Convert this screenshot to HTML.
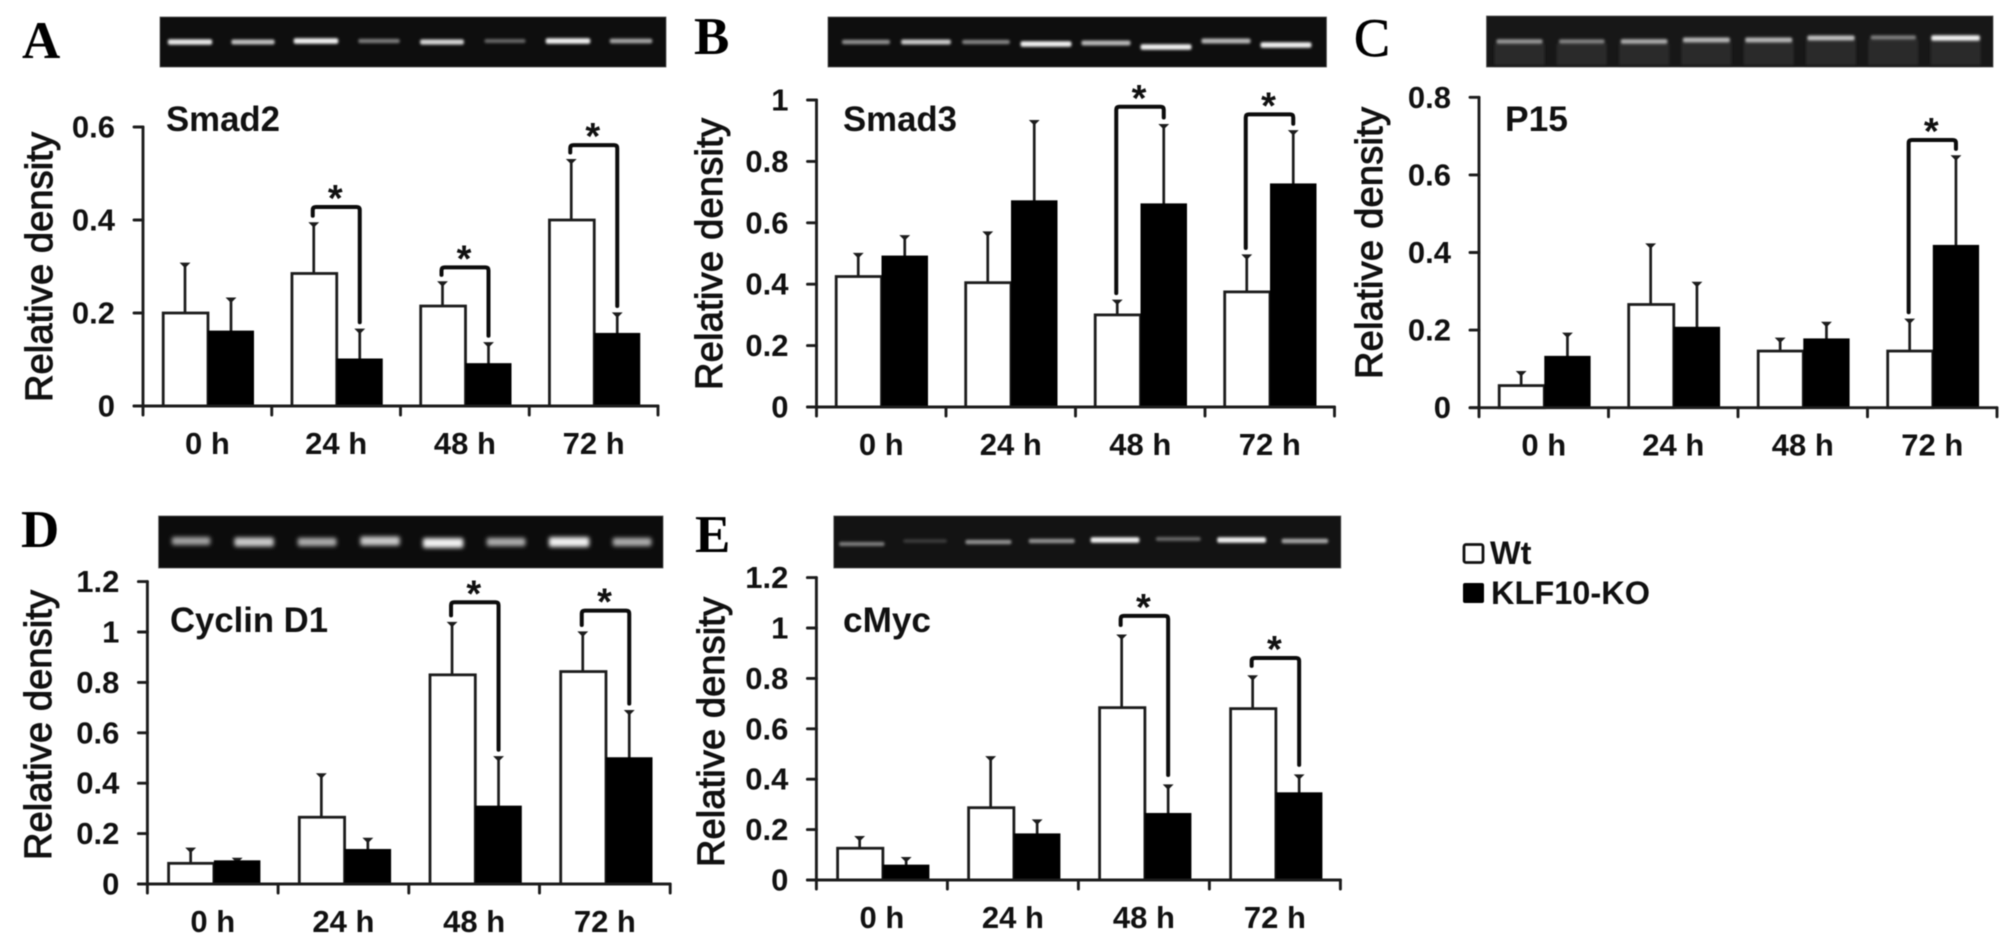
<!DOCTYPE html>
<html lang="en">
<head>
<meta charset="utf-8">
<title>Relative density of Smad2, Smad3, P15, Cyclin D1 and cMyc</title>
<style>
  html,body{margin:0;padding:0;background:#fff;width:2008px;height:946px;overflow:hidden}
  svg{display:block;filter:blur(.65px)}
  text{font-family:"Liberation Sans",sans-serif;fill:#111}
  .letter{font-family:"Liberation Serif",serif;font-weight:bold;font-size:53px;fill:#000}
  .title{font-weight:bold;font-size:35px}
  .ytitle{font-size:38px;stroke:#111;stroke-width:1px}
  .tick{font-weight:bold;font-size:31px;text-anchor:end}
  .xlab{font-weight:bold;font-size:31px;text-anchor:middle}
  .star{font-weight:bold;font-size:38px;text-anchor:middle}
  .legend-text{font-weight:bold;font-size:32.5px}
</style>
</head>
<body>
<svg id="fig" xmlns="http://www.w3.org/2000/svg" width="2008" height="946" viewBox="0 0 2008 946">
  <defs>
    <filter id="soft1" x="-20%" y="-150%" width="140%" height="400%"><feGaussianBlur stdDeviation="1.2"/></filter>
    <filter id="soft2" x="-20%" y="-100%" width="140%" height="300%"><feGaussianBlur stdDeviation="2.1"/></filter>
  </defs>

  <g id="panel-a">
    <text class="letter" x="22" y="58">A</text>
    <text class="title" x="166" y="131" textLength="114" lengthAdjust="spacingAndGlyphs">Smad2</text>
    <text class="ytitle" transform="translate(52 402) rotate(-90)" textLength="270" lengthAdjust="spacing">Relative density</text>
  </g>
  <g id="panel-b">
    <text class="letter" x="694" y="54">B</text>
    <text class="title" x="843" y="131" textLength="114" lengthAdjust="spacingAndGlyphs">Smad3</text>
    <text class="ytitle" transform="translate(722 390) rotate(-90)" textLength="272" lengthAdjust="spacing">Relative density</text>
  </g>
  <g id="panel-c">
    <text class="letter" x="1354" y="56" style="font-weight:normal;font-size:54px;stroke:#000;stroke-width:.7px">C</text>
    <text class="title" x="1505" y="131" textLength="63" lengthAdjust="spacingAndGlyphs">P15</text>
    <text class="ytitle" transform="translate(1382 379) rotate(-90)" textLength="272" lengthAdjust="spacing">Relative density</text>
  </g>
  <g id="panel-d">
    <text class="letter" x="21" y="547">D</text>
    <text class="title" x="170" y="632" textLength="158" lengthAdjust="spacingAndGlyphs">Cyclin D1</text>
    <text class="ytitle" transform="translate(51 860) rotate(-90)" textLength="270" lengthAdjust="spacing">Relative density</text>
  </g>
  <g id="panel-e">
    <text class="letter" x="695" y="552">E</text>
    <text class="title" x="843" y="632" textLength="88" lengthAdjust="spacingAndGlyphs">cMyc</text>
    <text class="ytitle" transform="translate(724 867) rotate(-90)" textLength="270" lengthAdjust="spacing">Relative density</text>
  </g>

  <g>
    <g>
      <rect x="1464" y="544.5" width="19" height="18" rx="2" fill="#fff" stroke="#111" stroke-width="2.8"/>
      <text class="legend-text" x="1490" y="564">Wt</text>
    </g>
    <g>
      <rect x="1463" y="583" width="21" height="20" rx="2" fill="#000"/>
      <text class="legend-text" x="1491" y="604" textLength="159" lengthAdjust="spacing">KLF10-KO</text>
    </g>
  </g>
</svg>

<script>
/* ---------- chart data ---------- */
const categories = ['0 h', '24 h', '48 h', '72 h'];

const smad2Ticks = [0, 0.2, 0.4, 0.6];
const smad2TickLabels = ['0', '0.2', '0.4', '0.6'];
const smad2Wt = [0.20, 0.285, 0.215, 0.40];
const smad2Ko = [0.16, 0.10, 0.09, 0.155];
const smad2WtErrTop = [0.307, 0.394, 0.267, 0.53];
const smad2KoErrTop = [0.232, 0.165, 0.136, 0.20];
const smad2SigGroups = [1, 2, 3];
const smad2SigLevels = [0.428, 0.298, 0.561];

const smad3Ticks = [0, 0.2, 0.4, 0.6, 0.8, 1];
const smad3TickLabels = ['0', '0.2', '0.4', '0.6', '0.8', '1'];
const smad3Wt = [0.425, 0.405, 0.30, 0.375];
const smad3Ko = [0.49, 0.67, 0.66, 0.725];
const smad3WtErrTop = [0.50, 0.57, 0.348, 0.495];
const smad3KoErrTop = [0.558, 0.933, 0.92, 0.90];
const smad3SigGroups = [2, 3];
const smad3SigLevels = [0.978, 0.953];

const p15Ticks = [0, 0.2, 0.4, 0.6, 0.8];
const p15TickLabels = ['0', '0.2', '0.4', '0.6', '0.8'];
const p15Wt = [0.057, 0.266, 0.146, 0.146];
const p15Ko = [0.131, 0.206, 0.176, 0.417];
const p15WtErrTop = [0.093, 0.422, 0.179, 0.228];
const p15KoErrTop = [0.192, 0.323, 0.22, 0.649];
const p15SigGroups = [3];
const p15SigLevels = [0.69];

const cyclinTicks = [0, 0.2, 0.4, 0.6, 0.8, 1, 1.2];
const cyclinTickLabels = ['0', '0.2', '0.4', '0.6', '0.8', '1', '1.2'];
const cyclinWt = [0.082, 0.265, 0.83, 0.843];
const cyclinKo = [0.09, 0.135, 0.307, 0.499];
const cyclinWtErrTop = [0.142, 0.437, 1.038, 1.0];
const cyclinKoErrTop = [0.102, 0.181, 0.505, 0.688];
const cyclinSigGroups = [2, 3];
const cyclinSigLevels = [1.118, 1.085];

const cmycTicks = [0, 0.2, 0.4, 0.6, 0.8, 1, 1.2];
const cmycTickLabels = ['0', '0.2', '0.4', '0.6', '0.8', '1', '1.2'];
const cmycWt = [0.126, 0.287, 0.684, 0.68];
const cmycKo = [0.057, 0.181, 0.262, 0.344];
const cmycWtErrTop = [0.172, 0.489, 0.972, 0.81];
const cmycKoErrTop = [0.089, 0.238, 0.377, 0.417];
const cmycSigGroups = [2, 3];
const cmycSigLevels = [1.048, 0.881];

/* gel band brightness for each of the eight lanes */
const smad2Gel = [0.95, 0.75, 1, 0.4, 0.85, 0.3, 1, 0.6];
const smad3Gel = [0.5, 0.8, 0.45, 1, 0.7, 1, 0.7, 1];
const p15Gel = [0.55, 0.45, 0.65, 0.7, 0.7, 0.75, 0.42, 1];
const cyclinGel = [0.6, 0.8, 0.65, 0.8, 1, 0.65, 1, 0.65];
const cmycGel = [0.4, 0.08, 0.5, 0.5, 1, 0.3, 1, 0.6];
/* vertical drift of each gel band */
const smad2Drift = [0, 0, -1, -1, 0, -1, -1, -1];
const smad3Drift = [0, 0, 0, 2, 1, 5, -1, 3];
const p15Drift = [1.5, 1.5, 1.5, 0, 0, -2, -2.5, -2];
const cyclinDrift = [0, 1, 1, 0, 2, 1, 1, 1];
const cmycDrift = [3, 0, 1, 0, -1, -2, -1, 0];

/* ---------- layout ---------- */
const panels = [
  {key: 'a', name: 'smad2', left: 143, step: 128.75, off: 19, bw: 46, zero: 406, unit: 465, gap: 7,
   ticks: smad2Ticks, labels: smad2TickLabels, wt: smad2Wt, ko: smad2Ko, wtTop: smad2WtErrTop, koTop: smad2KoErrTop, sig: smad2SigGroups, lev: smad2SigLevels,
   gel: {x: 160, y: 17, w: 506, h: 50, first: 30, lane: 63, bandW: 42, bandH: 4, bandY: 25, filter: 'soft1', bg: '#0e0e0e', data: smad2Gel, drift: smad2Drift}},
  {key: 'b', name: 'smad3', left: 816.5, step: 129.5, off: 18.5, bw: 46.5, zero: 407, unit: 307, gap: 7,
   ticks: smad3Ticks, labels: smad3TickLabels, wt: smad3Wt, ko: smad3Ko, wtTop: smad3WtErrTop, koTop: smad3KoErrTop, sig: smad3SigGroups, lev: smad3SigLevels,
   gel: {x: 828, y: 17, w: 498.5, h: 50, first: 38, lane: 60, bandW: 48, bandH: 4, bandY: 25, filter: 'soft1', bg: '#0e0e0e', data: smad3Gel, drift: smad3Drift}},
  {key: 'c', name: 'p15', left: 1479, step: 129.5, off: 19, bw: 46.3, zero: 407.7, unit: 388, gap: 7,
   ticks: p15Ticks, labels: p15TickLabels, wt: p15Wt, ko: p15Ko, wtTop: p15WtErrTop, koTop: p15KoErrTop, sig: p15SigGroups, lev: p15SigLevels,
   gel: {x: 1486.5, y: 16, w: 506.5, h: 51, first: 33, lane: 62.3, bandW: 46, bandH: 4, bandY: 24, filter: 'soft1', bg: '#171717', laneFill: '#2b2b2b', data: p15Gel, drift: p15Drift}},
  {key: 'd', name: 'cyclin-d1', left: 147.4, step: 130.7, off: 20, bw: 46.5, zero: 884, unit: 252, gap: 7,
   ticks: cyclinTicks, labels: cyclinTickLabels, wt: cyclinWt, ko: cyclinKo, wtTop: cyclinWtErrTop, koTop: cyclinKoErrTop, sig: cyclinSigGroups, lev: cyclinSigLevels,
   gel: {x: 158.6, y: 516, w: 504.4, h: 52, first: 32.5, lane: 63, bandW: 38, bandH: 7, bandY: 25, filter: 'soft2', bg: '#0c0c0c', data: cyclinGel, drift: cyclinDrift}},
  {key: 'e', name: 'cmyc', left: 816.4, step: 131, off: 20, bw: 46.5, zero: 880, unit: 252, gap: 10,
   ticks: cmycTicks, labels: cmycTickLabels, wt: cmycWt, ko: cmycKo, wtTop: cmycWtErrTop, koTop: cmycKoErrTop, sig: cmycSigGroups, lev: cmycSigLevels,
   gel: {x: 833.8, y: 516, w: 507, h: 52, first: 28, lane: 63.3, bandW: 46, bandH: 4, bandY: 25, filter: 'soft1', bg: '#131313', data: cmycGel, drift: cmycDrift}}
];

const NS = 'http://www.w3.org/2000/svg';
const INK = '#1c1c1c';

function make(tag, attrs, parent) {
  const node = document.createElementNS(NS, tag);
  for (const k in attrs) node.setAttribute(k, attrs[k]);
  parent.appendChild(node);
  return node;
}

function drawGel(p, root) {
  const g = p.gel;
  const group = make('g', {}, root);
  
  
  const bg = make('rect', {x: g.x, y: g.y, width: g.w, height: g.h, fill: g.bg, stroke: '#555', 'stroke-width': 0.8}, group);
  
  
  g.data.forEach(function (level, i) {
    const shade = Math.round(45 + 195 * level);
    const cx = g.x + g.first + i * g.lane;
    const w = g.bandW * (0.94 + 0.12 * level);
    const h = g.bandH * (0.8 + 0.6 * level);
    const cy = g.y + g.bandY + g.drift[i];
    if (g.laneFill) {
      const lane = make('rect', {x: cx - 25, y: cy + 2, width: 50, height: g.y + g.h - cy - 4, fill: g.laneFill, filter: 'url(#soft1)'}, group);
      
      
    }
    const band = make('rect', {
      x: cx - w / 2, y: cy - h / 2, width: w, height: h, rx: 2,
      fill: 'rgb(' + shade + ',' + shade + ',' + shade + ')', filter: 'url(#' + g.filter + ')'
    }, group);
    
    
  });
}

function drawPanel(p) {
  const root = document.getElementById('panel-' + p.key);
  const xLeft = function (groupIndex, seriesIndex) {
    return p.left + groupIndex * p.step + p.off + seriesIndex * p.bw;
  };
  const yOf = function (v) { return p.zero - v * p.unit; };
  const xEnd = p.left + categories.length * p.step;
  const maxTick = p.ticks[p.ticks.length - 1];

  drawGel(p, root);

  const barsGroup = make('g', {}, root);
  
  

  categories.forEach(function (cat, i) {
    [[p.wt, p.wtTop, 'wt'], [p.ko, p.koTop, 'ko']].forEach(function (s, si) {
      const x = xLeft(i, si);
      const cx = x + p.bw / 2;
      const val = s[0][i];
      const top = s[1][i];

      const stem = make('line', {x1: cx, x2: cx, y1: yOf(val), y2: yOf(top), stroke: INK, 'stroke-width': 2.7}, barsGroup);
      
      

      const cap = make('path', {d: 'M' + (cx - 4) + ' ' + yOf(top) + 'H' + (cx + 4) + 'L' + cx + ' ' + (yOf(top) + 4) + 'Z', fill: INK, stroke: INK, 'stroke-width': 1.2}, barsGroup);
      
      

      let bar;
      if (si === 0) {
        bar = make('rect', {x: x + 1.2, y: yOf(val), width: p.bw - 1.2, height: val * p.unit, fill: '#fff', stroke: INK, 'stroke-width': 2.8}, barsGroup);
      } else {
        bar = make('rect', {x: x, y: yOf(val) - 1, width: p.bw, height: val * p.unit + 1, fill: '#000'}, barsGroup);
      }
      
      
    });
  });

  const axes = make('g', {fill: 'none', stroke: INK, 'stroke-width': 2.9, 'stroke-linecap': 'round'}, root);
  
  

  const yAxis = make('line', {x1: p.left, x2: p.left, y1: yOf(maxTick), y2: p.zero}, axes);
  
  

  const xAxis = make('line', {x1: p.left - 9, x2: xEnd, y1: p.zero, y2: p.zero}, axes);
  
  

  p.ticks.forEach(function (t, i) {
    const mark = make('line', {x1: p.left - 9, x2: p.left, y1: yOf(t), y2: yOf(t)}, axes);
    
    
    const label = make('text', {class: 'tick', x: p.left - 28, y: yOf(t) + 10.5}, root);
    label.textContent = p.labels[i];
    
    
  });

  for (let i = 0; i <= categories.length; i++) {
    const xt = p.left + i * p.step;
    const mark = make('line', {x1: xt, x2: xt, y1: p.zero, y2: p.zero + 9}, axes);
    
    
  }

  categories.forEach(function (cat, i) {
    const label = make('text', {class: 'xlab', x: p.left + (i + 0.5) * p.step, y: p.zero + 48}, root);
    label.textContent = cat;
    
    
  });

  p.sig.forEach(function (groupIndex, k) {
    const lx = xLeft(groupIndex, 0) + p.bw / 2 - 1;
    const rx = xLeft(groupIndex, 1) + p.bw / 2;
    const ty = yOf(p.lev[k]);
    const ly = yOf(p.wtTop[groupIndex]) - p.gap;
    const ry = yOf(p.koTop[groupIndex]) - p.gap;
    const path = make('path', {
      d: 'M' + lx + ' ' + ly + 'V' + (ty + 3) + 'Q' + lx + ' ' + ty + ' ' + (lx + 3) + ' ' + ty +
         'H' + (rx - 3) + 'Q' + rx + ' ' + ty + ' ' + rx + ' ' + (ty + 3) + 'V' + ry,
      fill: 'none', stroke: '#0c0c0c', 'stroke-width': 4, 'stroke-linecap': 'round'
    }, root);
    
    
    const star = make('text', {class: 'star', x: (lx + rx) / 2 - 1, y: ty + 4}, root);
    star.textContent = '*';
    
    
  });
}

panels.forEach(drawPanel);
</script>
</body>
</html>
